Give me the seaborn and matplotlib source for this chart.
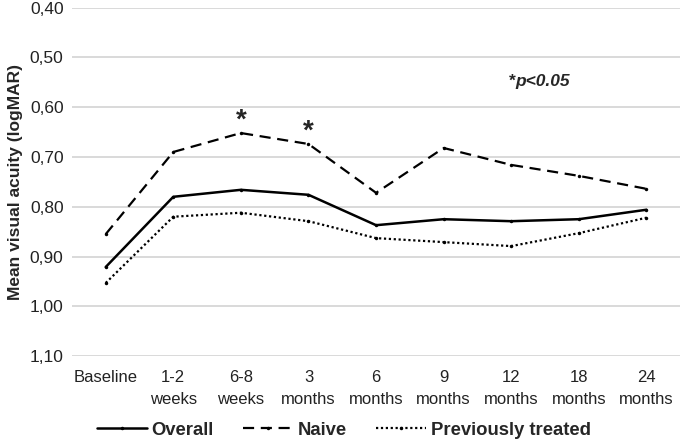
import matplotlib
matplotlib.use("Agg")
import matplotlib.pyplot as plt
import seaborn as sns
import pandas as pd
from matplotlib.lines import Line2D
from matplotlib.ticker import FuncFormatter

categories = ["Baseline", "1-2\nweeks", "6-8\nweeks", "3\nmonths", "6\nmonths",
              "9\nmonths", "12\nmonths", "18\nmonths", "24\nmonths"]
overall = [0.921, 0.780, 0.766, 0.776, 0.837, 0.825, 0.829, 0.825, 0.806]
naive = [0.855, 0.690, 0.652, 0.674, 0.772, 0.682, 0.716, 0.738, 0.764]
previously_treated = [0.953, 0.820, 0.812, 0.829, 0.863, 0.871, 0.879, 0.853, 0.822]
series_names = ["Overall", "Naive", "Previously treated"]
significant = ["6-8\nweeks", "3\nmonths"]
y_ticks = [0.40, 0.50, 0.60, 0.70, 0.80, 0.90, 1.00, 1.10]

sns.set_theme(style="white")
plt.rcParams['font.family'] = ['Liberation Sans', 'DejaVu Sans']

df = pd.DataFrame({
    "time": categories * 3,
    "value": overall + naive + previously_treated,
    "series": [series_names[0]] * 9 + [series_names[1]] * 9 + [series_names[2]] * 9,
})

fig = plt.figure(figsize=(6.85, 4.43), dpi=100)
ax = fig.add_axes([0.105, 0.196, 0.888, 0.787])

styles = {
    "Overall": dict(linestyle="-", linewidth=1.8),
    "Naive": dict(linestyle=(0, (5, 3)), linewidth=1.6),
    "Previously treated": dict(linestyle=(0, (1, 1.2)), linewidth=1.6),
}
for name in series_names:
    sub = df[df["series"] == name]
    sns.lineplot(data=sub, x="time", y="value", ax=ax, color="black",
                 marker="o", markersize=2.5, markeredgewidth=0,
                 sort=False, **styles[name])

ax.set_ylim(1.10, 0.40)
ax.set_xlim(-0.5, len(categories) - 0.5)
ax.set_yticks(y_ticks)
ax.yaxis.set_major_formatter(FuncFormatter(lambda v, p: f"{v:.2f}".replace(".", ",")))
ax.set_xticks(range(len(categories)))
ax.set_xticklabels(categories, fontsize=12, color="#222222", linespacing=1.6)
ax.tick_params(axis="y", labelsize=12.5, colors="#222222", length=0, pad=6)
ax.tick_params(axis="x", length=0, pad=10)
ax.grid(axis="y", color="#d9d9d9", linewidth=1.4)
ax.grid(axis="x", visible=False)
for s in ax.spines.values():
    s.set_visible(False)
ax.set_xlabel("")
ax.set_ylabel("Mean visual acuity (logMAR)", fontsize=12.5, fontweight="bold", labelpad=5)

# significance asterisks
for cat in significant:
    i = categories.index(cat)
    ax.text(i, naive[i] - 0.024, "*", ha="center", va="center", fontsize=20, fontweight="bold")
ax.text(5.97, 0.548, "*", ha="left", va="center", fontsize=12.5, fontweight="bold")
ax.text(6.06, 0.548, "p<0.05", ha="left", va="center", fontsize=12.5,
        fontweight="bold", fontstyle="italic")

handles = [Line2D([], [], color="black", marker="o", markersize=2.5, markeredgewidth=0,
                  markevery=[1], **styles[n]) for n in series_names]
leg = ax.legend(handles, series_names, loc="center", bbox_to_anchor=(0.447, -0.213),
                ncol=3, frameon=False, prop=dict(weight="bold", size=13.3),
                handlelength=2.7, columnspacing=1.6, handletextpad=0.25)

fig.savefig("out.png", dpi=100)
